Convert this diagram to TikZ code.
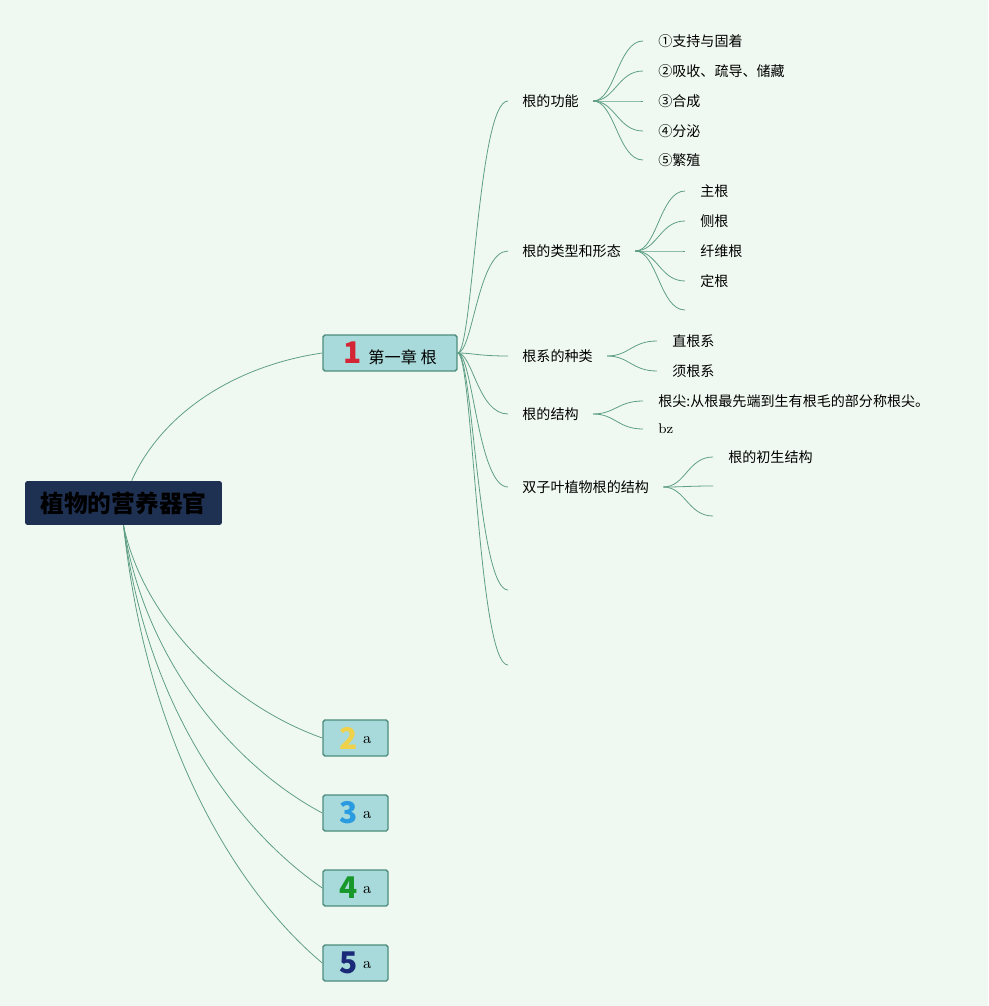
\documentclass[tikz,border=0pt]{standalone}
\usepackage{fontspec}
\newfontfamily\cjk{Noto Sans CJK SC}
\usetikzlibrary{positioning}

\definecolor{bgc}{HTML}{F0F9F1}
\definecolor{rootc}{HTML}{1F3152}
\definecolor{boxfill}{HTML}{A9DADB}
\definecolor{boxline}{HTML}{4C8C7C}
\definecolor{linkc}{HTML}{5E9E86}
\definecolor{numone}{HTML}{D42535}
\definecolor{numtwo}{HTML}{F0D24A}
\definecolor{numthree}{HTML}{2A9BE0}
\definecolor{numfour}{HTML}{18982A}
\definecolor{numfive}{HTML}{1A2A78}

\begin{document}
\begin{tikzpicture}[
  x=0.02cm, y=-0.02cm,
  rootbox/.style={rectangle, rounded corners=1.5pt, fill=rootc, minimum width=3.94cm, minimum height=0.88cm, font=\cjk\bfseries\fontsize{13.5}{16}\selectfont},
  chap/.style={rectangle, draw=boxline, fill=boxfill, line width=0.8pt, rounded corners=1pt, minimum height=0.72cm, inner sep=0pt},
  topic/.style={anchor=west, inner xsep=8pt, inner ysep=1pt, font=\cjk\fontsize{8}{10}\selectfont},
  leaf/.style={anchor=west, inner xsep=8.5pt, inner ysep=1pt, font=\cjk\fontsize{8}{10}\selectfont},
  link/.style={draw=linkc, line width=0.45pt}
]

\fill[bgc] (0,0) rectangle (988,1006);

% ------------------------------------------------------------
% Root and chapters
% ------------------------------------------------------------

\node[rootbox] (root) at (123.5,503) {植物的营养器官};

\node[chap, minimum width=2.68cm] (ch1) at (390,353)
  {\textcolor{numone}{\cjk\bfseries\fontsize{17}{18}\selectfont 1}\hspace{4pt}{\cjk\fontsize{9.2}{11}\selectfont 第一章 根}};
\node[chap, minimum width=1.3cm] (ch2) at (355.5,738)
  {\textcolor{numtwo}{\cjk\bfseries\fontsize{17}{18}\selectfont 2}\hspace{3pt}\raisebox{3pt}{\fontsize{9}{10}\selectfont a}};
\node[chap, minimum width=1.3cm] (ch3) at (355.5,813)
  {\textcolor{numthree}{\cjk\bfseries\fontsize{17}{18}\selectfont 3}\hspace{3pt}\raisebox{3pt}{\fontsize{9}{10}\selectfont a}};
\node[chap, minimum width=1.3cm] (ch4) at (355.5,888)
  {\textcolor{numfour}{\cjk\bfseries\fontsize{17}{18}\selectfont 4}\hspace{3pt}\raisebox{3pt}{\fontsize{9}{10}\selectfont a}};
\node[chap, minimum width=1.3cm] (ch5) at (355.5,963)
  {\textcolor{numfive}{\cjk\bfseries\fontsize{17}{18}\selectfont 5}\hspace{3pt}\raisebox{3pt}{\fontsize{9}{10}\selectfont a}};

\draw[link] (root.70) .. controls +(32,-71) and +(-83,12) .. (ch1.west);
\draw[link] (root.south) .. controls +(20,95) and +(-93,-33) .. (ch2.west);
\draw[link] (root.south) .. controls +(22,140) and +(-85,-45) .. (ch3.west);
\draw[link] (root.south) .. controls +(24,190) and +(-80,-55) .. (ch4.west);
\draw[link] (root.south) .. controls +(26,240) and +(-72,-60) .. (ch5.west);

% ------------------------------------------------------------
% Chapter 1 topics
% ------------------------------------------------------------

\node[topic] (func) at (508,101) {根的功能};
\node[topic] (form) at (508,251) {根的类型和形态};
\node[topic] (kind) at (508,356) {根系的种类};
\node[topic] (struct) at (508,414) {根的结构};
\node[topic] (dicot) at (508,487) {双子叶植物根的结构};
\coordinate (empA) at (508,590);
\coordinate (empB) at (508,665);

\draw[link] (ch1.east) .. controls +(15,0) and +(-30,0) .. (func.west);
\draw[link] (ch1.east) .. controls +(15,0) and +(-30,0) .. (form.west);
\draw[link] (ch1.east) .. controls +(15,0) and +(-30,0) .. (kind.west);
\draw[link] (ch1.east) .. controls +(15,0) and +(-30,0) .. (struct.west);
\draw[link] (ch1.east) .. controls +(15,0) and +(-30,0) .. (dicot.west);
\draw[link] (ch1.east) .. controls +(15,0) and +(-30,0) .. (empA);
\draw[link] (ch1.east) .. controls +(15,0) and +(-30,0) .. (empB);

% ------------------------------------------------------------
% Leaves
% ------------------------------------------------------------

\node[leaf] (f1) at (643,41) {①支持与固着};
\node[leaf] (f2) at (643,71) {②吸收、疏导、储藏};
\node[leaf] (f3) at (643,101) {③合成};
\node[leaf] (f4) at (643,131) {④分泌};
\node[leaf] (f5) at (643,160) {⑤繁殖};
\foreach \n in {f1,f2,f3,f4,f5}
  \draw[link] (func.east) .. controls +(22,0) and +(-25,0) .. (\n.west);

\node[leaf] (t1) at (685,191) {主根};
\node[leaf] (t2) at (685,221) {侧根};
\node[leaf] (t3) at (685,251) {纤维根};
\node[leaf] (t4) at (685,281) {定根};
\coordinate (t5) at (685,310);
\foreach \n in {t1.west,t2.west,t3.west,t4.west,t5}
  \draw[link] (form.east) .. controls +(22,0) and +(-25,0) .. (\n);

\node[leaf] (k1) at (657,341) {直根系};
\node[leaf] (k2) at (657,371) {须根系};
\foreach \n in {k1,k2}
  \draw[link] (kind.east) .. controls +(22,0) and +(-25,0) .. (\n.west);

\node[leaf] (s1) at (643,401) {根尖:从根最先端到生有根毛的部分称根尖。};
\node[leaf, font=\fontsize{8}{10}\selectfont] (s2) at (643,429) {bz};
\foreach \n in {s1,s2}
  \draw[link] (struct.east) .. controls +(22,0) and +(-25,0) .. (\n.west);

\node[leaf] (d1) at (713,457) {根的初生结构};
\coordinate (d2) at (713,486);
\coordinate (d3) at (713,516);
\foreach \n in {d1.west,d2,d3}
  \draw[link] (dicot.east) .. controls +(22,0) and +(-25,0) .. (\n);

\end{tikzpicture}
\end{document}
